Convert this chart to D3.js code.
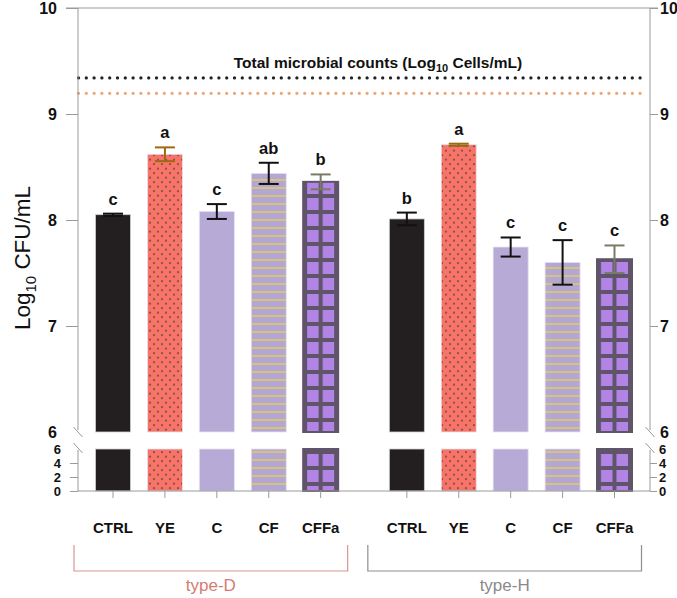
<!DOCTYPE html>
<html>
<head>
<meta charset="utf-8">
<script src="https://cdn.jsdelivr.net/npm/d3@7"></script>
<style>
  body { margin: 0; background: #fff; }
  text { font-family: "Liberation Sans", Arial, sans-serif; }
</style>
</head>
<body>
<script>
// data
var treatments = ['CTRL', 'YE', 'C', 'CF', 'CFFa'];
var groups = ['type-D', 'type-H'];
var meanD = [8.05, 8.62, 8.08, 8.44, 8.36];
var sdD = [0.01, 0.065, 0.07, 0.10, 0.07];
var meanH = [8.01, 8.71, 7.745, 7.60, 7.63];
var sdH = [0.06, 0.01, 0.09, 0.21, 0.13];
var lettersD = ['c', 'a', 'c', 'ab', 'b'];
var lettersH = ['b', 'a', 'c', 'c', 'c'];
var totalCounts = [9.34, 9.195]; // dotted reference lines
var upperTicks = [7, 8, 9, 10];
var lowerTicks = [0, 2, 4];

var W = 677, H = 598;
var groupGap = 1.66;
var barW = 35;
var axisCol = '#9a9a9a';

var svg = d3.select('body').append('svg')
  .attr('width', W).attr('height', H);
var defs = svg.append('defs');

var xSlot = d3.scaleLinear().domain([0, 4 + groupGap + 4]).range([113, 614.5]);
var yUp = d3.scaleLinear().domain([6, 10]).range([432, 8]);
var yLo = d3.scaleLinear().domain([0, 6]).range([491, 449]);
var xL = 78, xR = 650;

// build the table of bars
var bars = [];
[meanD, meanH].forEach(function(means, g) {
  var sds = g === 0 ? sdD : sdH;
  var lets = g === 0 ? lettersD : lettersH;
  means.forEach(function(m, i) {
    bars.push({ g: g, i: i, name: treatments[i], mean: m, sd: sds[i], letter: lets[i],
      cx: xSlot(g * (4 + groupGap) + i) });
  });
});

// patterns
var yeDots = defs.append('pattern').attr('id', 'pYE')
  .attr('patternUnits', 'userSpaceOnUse').attr('width', 8).attr('height', 9);
yeDots.append('rect').attr('width', 8).attr('height', 9).attr('fill', '#f7736c');
yeDots.append('circle').attr('cx', 2).attr('cy', 2.2).attr('r', 1.15).attr('fill', '#8d5a2c');
yeDots.append('circle').attr('cx', 6).attr('cy', 6.7).attr('r', 1.15).attr('fill', '#8d5a2c');

var cfStripes = defs.append('pattern').attr('id', 'pCF')
  .attr('patternUnits', 'userSpaceOnUse').attr('width', 8).attr('height', 8);
cfStripes.append('rect').attr('width', 8).attr('height', 8).attr('fill', '#b4a7d6');
cfStripes.append('rect').attr('y', 3).attr('width', 8).attr('height', 2).attr('fill', '#d3c477');

bars.filter(function(d) { return d.name === 'CFFa'; }).forEach(function(d) {
  var pw = (barW - 4) / 2;
  var p = defs.append('pattern').attr('id', 'pCFFa' + d.g)
    .attr('patternUnits', 'userSpaceOnUse')
    .attr('x', d.cx - barW / 2).attr('y', 2)
    .attr('width', pw).attr('height', 16);
  p.append('rect').attr('width', pw).attr('height', 16).attr('fill', '#60546a');
  p.append('rect').attr('x', 4).attr('y', 4).attr('width', pw - 4).attr('height', 12).attr('fill', '#b184e6');
});

function barFill(d) {
  if (d.name === 'CTRL') return '#231f20';
  if (d.name === 'YE') return 'url(#pYE)';
  if (d.name === 'C') return '#b7aad6';
  if (d.name === 'CF') return 'url(#pCF)';
  return 'url(#pCFFa' + d.g + ')';
}
function barStroke(d) {
  if (d.name === 'CFFa') return '#60546a';
  if (d.name === 'CTRL') return '#cfcfcf';
  return '#e6e0ee';
}
function errCol(d) {
  if (d.name === 'YE') return '#9a6a12';
  if (d.name === 'CFFa') return '#7b7a68';
  return '#111';
}

// reference lines
svg.selectAll('line.ref').data(totalCounts).enter().append('line')
  .attr('class', 'ref')
  .attr('x1', xL + 0.5).attr('x2', xR - 4)
  .attr('y1', function(d) { return yUp(d); }).attr('y2', function(d) { return yUp(d); })
  .attr('stroke', function(d, i) { return i === 0 ? '#222' : '#eba777'; })
  .attr('stroke-width', 3.3).attr('stroke-linecap', 'round')
  .attr('stroke-dasharray', '0 7.8');

var title = svg.append('text').attr('x', 378).attr('y', 68)
  .attr('text-anchor', 'middle').attr('font-size', 15.5).attr('font-weight', 'bold')
  .attr('fill', '#111');
title.append('tspan').text('Total microbial counts (Log');
title.append('tspan').attr('font-size', 11).attr('dy', 4).text('10');
title.append('tspan').attr('dy', -4).text(' Cells/mL)');

// bars, upper and lower segments
var gb = svg.append('g');
gb.selectAll('rect.up').data(bars).enter().append('rect')
  .attr('class', 'up')
  .attr('x', function(d) { return d.cx - barW / 2; })
  .attr('y', function(d) { return yUp(d.mean); })
  .attr('width', barW)
  .attr('height', function(d) { return yUp(6) - yUp(d.mean); })
  .attr('fill', barFill)
  .attr('stroke', barStroke)
  .attr('stroke-width', function(d) { return d.name === 'CFFa' ? 2 : 0.8; });

gb.selectAll('rect.lo').data(bars).enter().append('rect')
  .attr('class', 'lo')
  .attr('x', function(d) { return d.cx - barW / 2; })
  .attr('y', yLo(6))
  .attr('width', barW)
  .attr('height', yLo(0) - yLo(6))
  .attr('fill', barFill)
  .attr('stroke', barStroke)
  .attr('stroke-width', function(d) { return d.name === 'CFFa' ? 2 : 0.8; });

// error bars
var ge = svg.append('g').attr('stroke-width', 2);
bars.forEach(function(d) {
  var t = yUp(d.mean + d.sd), b = yUp(d.mean - d.sd);
  var e = ge.append('g').attr('stroke', errCol(d));
  e.append('line').attr('x1', d.cx).attr('x2', d.cx).attr('y1', t).attr('y2', b);
  e.append('line').attr('x1', d.cx - 10).attr('x2', d.cx + 10).attr('y1', t).attr('y2', t);
  e.append('line').attr('x1', d.cx - 10).attr('x2', d.cx + 10).attr('y1', b).attr('y2', b);
});

svg.selectAll('text.letter').data(bars).enter().append('text')
  .attr('class', 'letter')
  .attr('x', function(d) { return d.cx; })
  .attr('y', function(d) { return yUp(d.mean + d.sd) - 9; })
  .attr('text-anchor', 'middle').attr('font-size', 16.5).attr('font-weight', 'bold')
  .attr('fill', '#111')
  .text(function(d) { return d.letter; });

// axes
var ga = svg.append('g').attr('stroke', axisCol).attr('fill', 'none').attr('stroke-width', 1);
ga.append('line').attr('x1', 66).attr('x2', xR + 8).attr('y1', yUp(10)).attr('y2', yUp(10));
[xL, xR].forEach(function(x) {
  ga.append('line').attr('x1', x).attr('x2', x).attr('y1', yUp(10)).attr('y2', 430);
  ga.append('line').attr('x1', x).attr('x2', x).attr('y1', 450).attr('y2', yLo(0));
  ga.append('line').attr('x1', x - 4.5).attr('x2', x + 4.5).attr('y1', 427).attr('y2', 437);
  ga.append('line').attr('x1', x - 4.5).attr('x2', x + 4.5).attr('y1', 443).attr('y2', 453);
});
ga.append('line').attr('x1', xL).attr('x2', xR).attr('y1', yLo(0)).attr('y2', yLo(0));

function styleAxis(size) {
  return function(sel) {
    sel.select('.domain').remove();
    sel.selectAll('.tick line').attr('stroke', axisCol);
    sel.selectAll('.tick text').attr('font-size', size).attr('font-weight', 'bold')
      .attr('fill', '#111').attr('font-family', '"Liberation Sans", Arial, sans-serif');
    sel.selectAll('.tick').filter(function(d) { return d === 6; }).select('line').remove();
  };
}
svg.append('g').attr('transform', 'translate(' + xL + ',0)')
  .call(d3.axisLeft(yUp).tickValues(upperTicks.concat([6])).tickSize(12).tickPadding(9).tickFormat(d3.format('d')))
  .call(styleAxis(16));
svg.append('g').attr('transform', 'translate(' + xR + ',0)')
  .call(d3.axisRight(yUp).tickValues(upperTicks.concat([6])).tickSize(8).tickPadding(2).tickFormat(d3.format('d')))
  .call(styleAxis(16));
svg.append('g').attr('transform', 'translate(' + xL + ',0)')
  .call(d3.axisLeft(yLo).tickValues(lowerTicks.concat([6])).tickSize(8).tickPadding(9).tickFormat(d3.format('d')))
  .call(styleAxis(13));
svg.append('g').attr('transform', 'translate(' + xR + ',0)')
  .call(d3.axisRight(yLo).tickValues(lowerTicks.concat([6])).tickSize(7).tickPadding(2).tickFormat(d3.format('d')))
  .call(styleAxis(13));

// category ticks and labels
svg.selectAll('line.xt').data(bars).enter().append('line')
  .attr('class', 'xt')
  .attr('x1', function(d) { return d.cx; }).attr('x2', function(d) { return d.cx; })
  .attr('y1', yLo(0)).attr('y2', yLo(0) + 7)
  .attr('stroke', axisCol);
svg.selectAll('text.xl').data(bars).enter().append('text')
  .attr('class', 'xl')
  .attr('x', function(d) { return d.cx; }).attr('y', 533)
  .attr('text-anchor', 'middle').attr('font-size', 15).attr('font-weight', 'bold')
  .attr('fill', '#111')
  .text(function(d) { return d.name; });

// group brackets
var brCol = ['#d99690', '#8e8e8e'];
var txCol = ['#d47c73', '#8a8a8a'];
groups.forEach(function(name, g) {
  var x0 = xSlot(g * (4 + groupGap)) - 39;
  var x1 = xSlot(g * (4 + groupGap) + 4) + 27;
  svg.append('path')
    .attr('d', 'M' + x0 + ',545V571H' + x1 + 'V545')
    .attr('fill', 'none').attr('stroke', brCol[g]).attr('stroke-width', 1.2);
  svg.append('text').attr('x', (x0 + x1) / 2).attr('y', 591)
    .attr('text-anchor', 'middle').attr('font-size', 17)
    .attr('fill', txCol[g]).text(name);
});

// y axis title
var yt = svg.append('text')
  .attr('transform', 'translate(30,258) rotate(-90)')
  .attr('text-anchor', 'middle').attr('font-size', 22.5).attr('fill', '#111');
yt.append('tspan').text('Log');
yt.append('tspan').attr('font-size', 15).attr('dy', 6).text('10');
yt.append('tspan').attr('dy', -6).text(' CFU/mL');
</script>
</body>
</html>
